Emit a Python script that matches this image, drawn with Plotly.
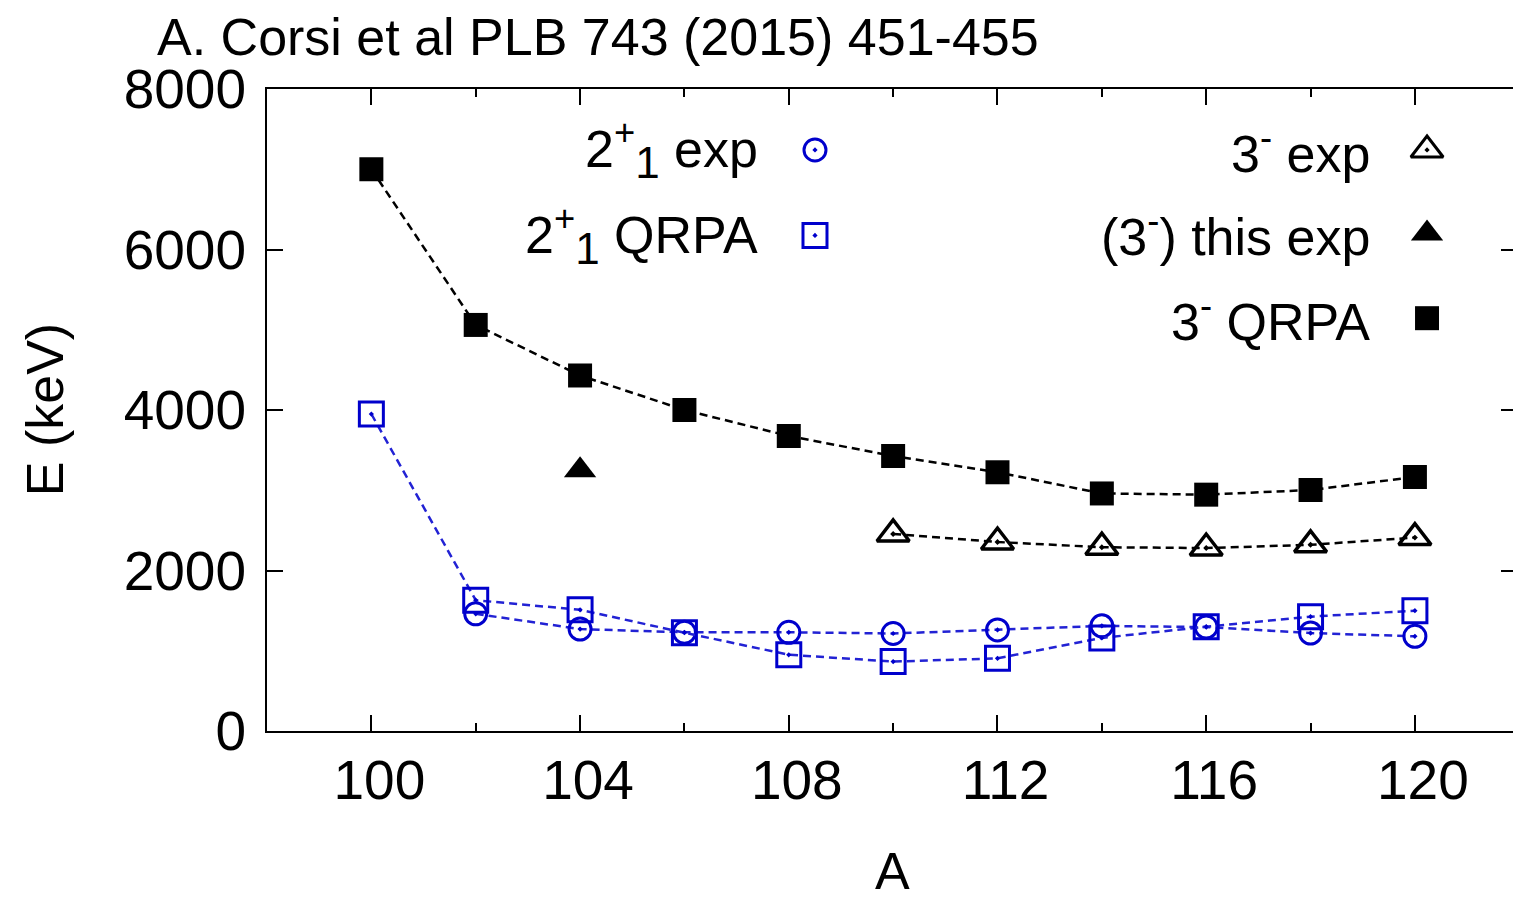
import plotly.graph_objects as go

# Mass number A of the Sn isotopes
A_all = [100, 102, 104, 106, 108, 110, 112, 114, 116, 118, 120]
A_2exp = [102, 104, 106, 108, 110, 112, 114, 116, 118, 120]
A_3exp = [110, 112, 114, 116, 118, 120]
A_this = [104]

# Excitation energies (keV)
e2_exp = [1460, 1270, 1230, 1230, 1215, 1260, 1310, 1295, 1220, 1180]
e2_qrpa = [3950, 1630, 1510, 1225, 950, 865, 905, 1160, 1300, 1425, 1500]
e3_exp = [2455, 2355, 2290, 2280, 2320, 2410]
e3_this = [3250]
e3_qrpa = [7000, 5060, 4430, 4000, 3676, 3427, 3224, 2960, 2945, 3003, 3165]

# Axis ticks
x_major = [100, 104, 108, 112, 116, 120]
y_major = [0, 2000, 4000, 6000, 8000]

SUB1 = "<sub><span style='font-size:44px'>1</span></sub>"

# Key entries: (label, symbol, colour, key y) in key-panel fractions
key_left = [
    ("2<sup>+</sup>" + SUB1 + " exp", "circle-open-dot", "#0000CC", 0.905),
    ("2<sup>+</sup>" + SUB1 + " QRPA", "square-open-dot", "#0000CC", 0.772),
]
key_right = [
    ("3<sup>-</sup> exp", "triangle-up-open-dot", "black", 0.905),
    ("(3<sup>-</sup>) this exp", "triangle-up", "black", 0.775),
    ("3<sup>-</sup> QRPA", "square", "black", 0.643),
]

FONT = "Liberation Sans, Arial, sans-serif"
BLUE = "#0000CC"
BLUE_LINE = "#2222D4"
DASH = "8px,5px"
LW = 2.5

fig = go.Figure()

fig.add_trace(go.Scatter(
    x=A_all, y=e3_qrpa, mode="lines+markers",
    line=dict(color="black", width=LW, dash=DASH),
    marker=dict(symbol="square", size=24, color="black"),
))
fig.add_trace(go.Scatter(
    x=A_3exp, y=e3_exp, mode="lines+markers",
    line=dict(color="black", width=LW, dash=DASH),
    marker=dict(symbol="triangle-up-open-dot", size=28, color="black",
                line=dict(width=3.5, color="black")),
))
fig.add_trace(go.Scatter(
    x=A_2exp, y=e2_exp, mode="lines+markers",
    line=dict(color=BLUE_LINE, width=LW, dash=DASH),
    marker=dict(symbol="circle-open-dot", size=22, color=BLUE,
                line=dict(width=3, color=BLUE)),
))
fig.add_trace(go.Scatter(
    x=A_all, y=e2_qrpa, mode="lines+markers",
    line=dict(color=BLUE_LINE, width=LW, dash=DASH),
    marker=dict(symbol="square-open-dot", size=24, color=BLUE,
                line=dict(width=3, color=BLUE)),
))
# This experiment, on the right-hand mirror axis (same range)
fig.add_trace(go.Scatter(
    x=A_this, y=e3_this, mode="markers", yaxis="y2",
    marker=dict(symbol="triangle-up", size=28, color="black"),
))

# Key symbols and labels
annotations = []
for entries, kx, tx in ((key_left, 0.4398, 0.3957), (key_right, 0.931, 0.8868)):
    for label, sym, col, ky in entries:
        open_sym = "open" in sym
        size = 22 if sym.startswith("circle") else (28 if sym.startswith("triangle") else 24)
        fig.add_trace(go.Scatter(
            x=[kx], y=[ky], mode="markers", xaxis="x3", yaxis="y3",
            marker=dict(symbol=sym, size=size, color=col,
                        line=dict(width=3 if open_sym else 0, color=col)),
            hoverinfo="skip",
        ))
        annotations.append(dict(
            x=tx, y=ky, xref="paper", yref="paper", text=label,
            showarrow=False, xanchor="right", yanchor="middle",
            font=dict(family=FONT, size=52, color="black"),
        ))

annotations += [
    dict(x=-0.0899, y=1.081, xref="paper", yref="paper", showarrow=False,
         text="A. Corsi et al PLB 743 (2015) 451-455", xanchor="left", yanchor="middle",
         font=dict(family=FONT, size=52, color="black")),
    dict(x=-0.178, y=0.5, xref="paper", yref="paper", showarrow=False,
         text="E (keV)", textangle=-90, xanchor="center", yanchor="middle",
         font=dict(family=FONT, size=52, color="black")),
    dict(x=0.5024, y=-0.218, xref="paper", yref="paper", showarrow=False,
         text="A", xanchor="center", yanchor="middle",
         font=dict(family=FONT, size=52, color="black")),
]

fig.update_layout(
    width=1513, height=899,
    margin=dict(l=267, r=0, t=89, b=168),
    paper_bgcolor="white", plot_bgcolor="white",
    showlegend=False,
    font=dict(family=FONT, size=55, color="black"),
    annotations=annotations,
    xaxis=dict(
        range=[98, 121.88], tickvals=x_major, ticks="inside", ticklen=16,
        tickwidth=2, tickcolor="black", showline=True, linecolor="black",
        linewidth=2, mirror="ticks", showgrid=False, zeroline=False,
        ticklabelstandoff=0, ticklabelshift=8,
        minor=dict(dtick=2, tick0=100, ticks="inside", ticklen=8,
                   tickwidth=2, tickcolor="black", showgrid=False),
        tickfont=dict(family=FONT, size=55),
    ),
    yaxis=dict(
        range=[0, 8000], tickvals=y_major, ticks="inside", ticklen=16,
        tickwidth=2, tickcolor="black", showline=True, linecolor="black",
        linewidth=2, mirror=False, showgrid=False, zeroline=False,
        ticklabelstandoff=8,
        tickfont=dict(family=FONT, size=55),
    ),
    yaxis2=dict(
        range=[0, 8000], overlaying="y", side="right", tickvals=y_major,
        ticks="inside", ticklen=12, tickwidth=2, tickcolor="black",
        showticklabels=False, showline=False, showgrid=False, zeroline=False,
    ),
    xaxis3=dict(range=[0, 1], overlaying="x", visible=False, fixedrange=True),
    yaxis3=dict(range=[0, 1], overlaying="y", visible=False, fixedrange=True),
)

fig.write_html("out.html")
